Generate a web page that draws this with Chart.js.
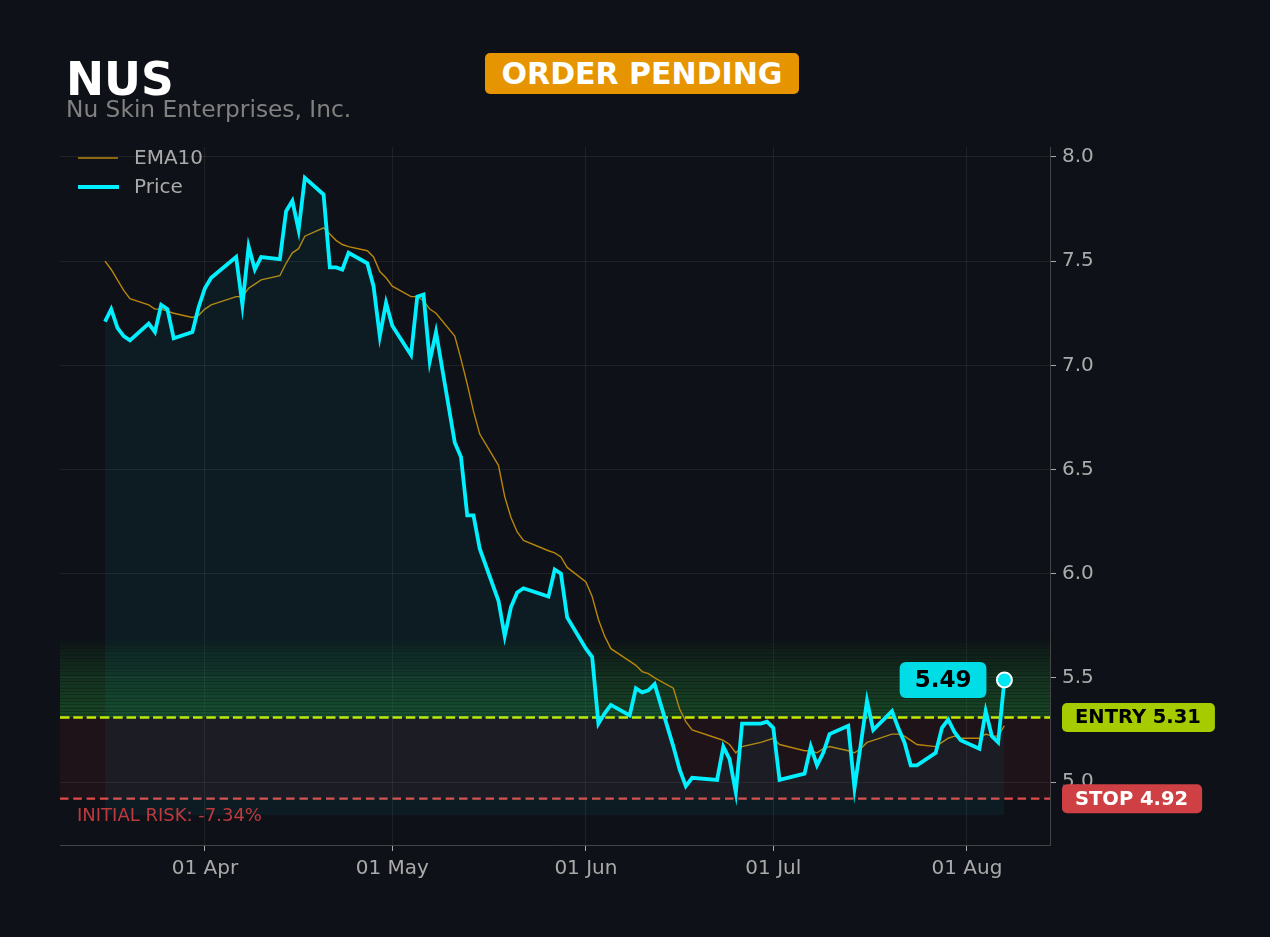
<!DOCTYPE html>
<html lang="en">
<head>
    <meta charset="UTF-8">
    <meta name="viewport" content="width=device-width, initial-scale=1.0">
    <title>NUS - Order Pending</title>
    <script src="https://cdn.jsdelivr.net/npm/chart.js@4.4.1/dist/chart.umd.min.js"></script>
    <style>
        html, body { margin: 0; padding: 0; background: #0e1117; }
        body { width: 1270px; height: 937px; overflow: hidden; position: relative; font-family: 'DejaVu Sans', sans-serif; }
        .chart-wrap { position: absolute; left: 0; top: 0; width: 1270px; height: 937px; }
        .ticker { position: absolute; left: 66px; top: 57px; font-size: 45.5px; line-height: 45px; font-weight: bold; color: #ffffff; }
        .company { position: absolute; left: 66px; top: 97px; font-size: 23.3px; line-height: 23px; color: #808080; }
        .badge { position: absolute; left: 485px; top: 53px; width: 314px; height: 41px; border-radius: 5px; background: #e69500; color: #ffffff; font-weight: bold; font-size: 30px; display: flex; align-items: center; justify-content: center; }
    </style>
</head>
<body>
    <div class="chart-wrap"><canvas id="nusChart"></canvas></div>
    <div class="ticker">NUS</div>
    <div class="company">Nu Skin Enterprises, Inc.</div>
    <div class="badge">ORDER PENDING</div>

    <script>
        // trading days (2026), MM-DD
        const YEAR = 2026;
        const dates = [
            '03-16', '03-17', '03-18', '03-19', '03-20', '03-23', '03-24', '03-25', '03-26', '03-27', '03-30', '03-31',
            '04-01', '04-02', '04-06', '04-07', '04-08', '04-09', '04-10', '04-13', '04-14', '04-15', '04-16', '04-17',
            '04-20', '04-21', '04-22', '04-23', '04-24', '04-27', '04-28', '04-29', '04-30',
            '05-01', '05-04', '05-05', '05-06', '05-07', '05-08', '05-11', '05-12', '05-13', '05-14', '05-15',
            '05-18', '05-19', '05-20', '05-21', '05-22', '05-26', '05-27', '05-28', '05-29',
            '06-01', '06-02', '06-03', '06-04', '06-05', '06-08', '06-09', '06-10', '06-11', '06-12',
            '06-15', '06-16', '06-17', '06-18', '06-22', '06-23', '06-24', '06-25', '06-26', '06-29', '06-30',
            '07-01', '07-02', '07-06', '07-07', '07-08', '07-09', '07-10', '07-13', '07-14', '07-15', '07-16', '07-17',
            '07-20', '07-21', '07-22', '07-23', '07-24', '07-27', '07-28', '07-29', '07-30', '07-31',
            '08-03', '08-04', '08-05', '08-06', '08-07'
        ];
        const price = [
            7.21, 7.27, 7.18, 7.14, 7.12, 7.20, 7.16, 7.29, 7.27, 7.13, 7.16, 7.28,
            7.37, 7.42, 7.52, 7.29, 7.57, 7.46, 7.52, 7.51, 7.74, 7.79, 7.65, 7.90,
            7.82, 7.47, 7.47, 7.46, 7.54, 7.49, 7.38, 7.14, 7.30,
            7.19, 7.05, 7.33, 7.34, 7.02, 7.16, 6.63, 6.56, 6.28, 6.28, 6.12,
            5.87, 5.70, 5.84, 5.91, 5.93, 5.89, 6.02, 6.00, 5.79,
            5.64, 5.60, 5.28, 5.33, 5.37, 5.32, 5.45, 5.43, 5.44, 5.47,
            5.17, 5.06, 4.98, 5.02, 5.01, 5.17, 5.11, 4.95, 5.28, 5.28, 5.29,
            5.26, 5.01, 5.04, 5.17, 5.08, 5.14, 5.23, 5.27, 4.97, 5.18, 5.39, 5.25,
            5.34, 5.26, 5.19, 5.08, 5.08, 5.14, 5.26, 5.30, 5.24, 5.20,
            5.16, 5.34, 5.22, 5.19, 5.49
        ];
        const ema10 = [
            7.50, 7.46, 7.41, 7.36, 7.32, 7.29, 7.27, 7.27, 7.26, 7.25, 7.23, 7.24,
            7.27, 7.29, 7.33, 7.33, 7.37, 7.39, 7.41, 7.43, 7.49, 7.54, 7.56, 7.62,
            7.66, 7.63, 7.60, 7.58, 7.57, 7.55, 7.52, 7.45, 7.42,
            7.38, 7.33, 7.33, 7.31, 7.27, 7.25, 7.14, 7.03, 6.91, 6.78, 6.67,
            6.52, 6.37, 6.27, 6.20, 6.16, 6.11, 6.10, 6.08, 6.03,
            5.96, 5.89, 5.78, 5.70, 5.64, 5.58, 5.56, 5.53, 5.52, 5.50,
            5.45, 5.35, 5.29, 5.25, 5.21, 5.20, 5.18, 5.14, 5.17, 5.19, 5.20,
            5.21, 5.18, 5.15, 5.15, 5.14, 5.16, 5.17, 5.15, 5.14, 5.16, 5.19, 5.20,
            5.23, 5.23, 5.22, 5.20, 5.18, 5.17, 5.19, 5.21, 5.22, 5.21,
            5.21, 5.23, 5.22, 5.22, 5.27
        ];
        const yTicks = [5.0, 5.5, 6.0, 6.5, 7.0, 7.5, 8.0];
        const xTickDates = ['04-01', '05-01', '06-01', '07-01', '08-01'];
        const xTickLabels = ['01 Apr', '01 May', '01 Jun', '01 Jul', '01 Aug'];
        const entryPrice = 5.31;
        const stopPrice = 4.92;
        const riskText = 'INITIAL RISK: -7.34%';

        const FONT = '"DejaVu Sans", sans-serif';

        function dayNum(md) {
            const [m, d] = md.split('-').map(Number);
            return (Date.UTC(YEAR, m - 1, d) - Date.UTC(YEAR, 3, 1)) / 86400000;
        }

        const pricePts = dates.map((d, i) => ({ x: dayNum(d), y: price[i] }));
        const emaPts = dates.map((d, i) => ({ x: dayNum(d), y: ema10[i] }));
        const lastIdx = price.length - 1;

        // entry/stop zones and dashed levels, under the lines
        const zonesPlugin = {
            id: 'zones',
            beforeDatasetsDraw(chart) {
                const { ctx, chartArea: a, scales: { y } } = chart;
                const w = a.right - a.left;
                const yE = y.getPixelForValue(entryPrice);
                const yS = y.getPixelForValue(stopPrice);
                ctx.save();
                ctx.fillStyle = 'rgba(220,50,50,0.08)';
                ctx.fillRect(a.left, yE, w, yS - yE);

                // stacked green band above entry
                const bandTop = 5.69;
                const steps = 24;
                for (let i = 0; i < steps; i++) {
                    const y0 = y.getPixelForValue(entryPrice + (bandTop - entryPrice) * i / steps);
                    const y1 = y.getPixelForValue(entryPrice + (bandTop - entryPrice) * (i + 1) / steps);
                    const alpha = 0.38 * Math.pow(1 - i / steps, 0.8);
                    ctx.fillStyle = `rgba(40,160,60,${alpha.toFixed(3)})`;
                    ctx.fillRect(a.left, y1, w, y0 - y1);
                    ctx.fillStyle = 'rgba(14,17,23,0.4)';
                    ctx.fillRect(a.left, Math.round(y1), w, 1);
                }

                ctx.lineWidth = 2.5;
                ctx.setLineDash([9.5, 3.8]);
                ctx.strokeStyle = '#c6e800';
                ctx.beginPath();
                ctx.moveTo(a.left, yE);
                ctx.lineTo(a.right, yE);
                ctx.stroke();

                ctx.lineWidth = 2.2;
                ctx.setLineDash([8.5, 4.8]);
                ctx.strokeStyle = '#e04b4b';
                ctx.beginPath();
                ctx.moveTo(a.left, yS);
                ctx.lineTo(a.right, yS);
                ctx.stroke();
                ctx.restore();
            }
        };

        // legend, level labels, last price label
        const labelsPlugin = {
            id: 'labels',
            afterDraw(chart) {
                const { ctx, scales: { x, y } } = chart;
                ctx.save();
                ctx.textBaseline = 'middle';

                // legend
                ctx.lineCap = 'butt';
                ctx.strokeStyle = '#b8860b';
                ctx.lineWidth = 1.5;
                ctx.beginPath(); ctx.moveTo(78, 158); ctx.lineTo(118, 158); ctx.stroke();
                ctx.strokeStyle = '#00f0ff';
                ctx.lineWidth = 4;
                ctx.beginPath(); ctx.moveTo(78, 187); ctx.lineTo(119, 187); ctx.stroke();
                ctx.fillStyle = '#aaaaaa';
                ctx.font = '20px ' + FONT;
                ctx.textAlign = 'left';
                ctx.fillText('EMA10', 134, 159);
                ctx.fillText('Price', 134, 188);

                // initial risk
                ctx.fillStyle = '#be3a3e';
                ctx.font = '18px ' + FONT;
                ctx.fillText(riskText, 77, 816);

                // entry / stop tags
                const tag = (text, yPix, bg, fg) => {
                    ctx.font = 'bold 19.5px ' + FONT;
                    const tw = ctx.measureText(text).width;
                    ctx.fillStyle = bg;
                    ctx.beginPath();
                    ctx.roundRect(1062, yPix - 14.5, tw + 27, 29, 5);
                    ctx.fill();
                    ctx.fillStyle = fg;
                    ctx.textAlign = 'left';
                    ctx.fillText(text, 1075, yPix + 1);
                };
                tag('ENTRY ' + entryPrice.toFixed(2), y.getPixelForValue(entryPrice), '#a6cc00', '#000000');
                tag('STOP ' + stopPrice.toFixed(2), y.getPixelForValue(stopPrice), '#cf4044', '#ffffff');

                // last price tag
                const px = x.getPixelForValue(pricePts[lastIdx].x);
                const py = y.getPixelForValue(price[lastIdx]);
                const txt = price[lastIdx].toFixed(2);
                ctx.font = 'bold 23px ' + FONT;
                const tw = ctx.measureText(txt).width;
                const bw = tw + 30;
                ctx.fillStyle = '#00dde6';
                ctx.beginPath();
                ctx.roundRect(px - 18 - bw, py - 18, bw, 36, 6);
                ctx.fill();
                ctx.fillStyle = '#000000';
                ctx.textAlign = 'center';
                ctx.fillText(txt, px - 18 - bw / 2, py + 1);
                ctx.restore();
            }
        };

        const ctx = document.getElementById('nusChart').getContext('2d');
        new Chart(ctx, {
            type: 'line',
            data: {
                datasets: [{
                    label: 'Price',
                    data: pricePts,
                    borderColor: '#00f0ff',
                    borderWidth: 3.8,
                    tension: 0,
                    fill: { value: 4.84 },
                    backgroundColor: 'rgba(0,229,255,0.05)',
                    pointRadius: c => c.dataIndex === lastIdx ? 7.5 : 0,
                    pointHoverRadius: 0,
                    pointBackgroundColor: '#00e8f4',
                    pointBorderColor: '#ffffff',
                    pointBorderWidth: 2
                }, {
                    label: 'EMA10',
                    data: emaPts,
                    borderColor: '#b8860b',
                    borderWidth: 1.4,
                    tension: 0,
                    pointRadius: 0,
                    fill: false
                }]
            },
            options: {
                responsive: true,
                maintainAspectRatio: false,
                animation: false,
                layout: { padding: { left: 60, top: 147, right: 0, bottom: 0 } },
                plugins: {
                    legend: { display: false },
                    tooltip: { enabled: false }
                },
                scales: {
                    x: {
                        type: 'linear',
                        min: -23.2,
                        max: 135.3,
                        afterBuildTicks: s => { s.ticks = xTickDates.map(d => ({ value: dayNum(d) })); },
                        afterFit: s => { s.height = 92; },
                        ticks: {
                            color: '#aaaaaa',
                            font: { family: FONT, size: 20 },
                            padding: 6,
                            maxRotation: 0,
                            autoSkip: false,
                            callback: (v, i) => xTickLabels[i]
                        },
                        grid: { color: 'rgba(255,255,255,0.07)', tickColor: '#aaaaaa', tickLength: 6 },
                        border: { color: '#444444' }
                    },
                    y: {
                        position: 'right',
                        min: 4.6976,
                        max: 8.048,
                        afterBuildTicks: s => { s.ticks = yTicks.map(v => ({ value: v })); },
                        afterFit: s => { s.width = 220; },
                        ticks: {
                            color: '#aaaaaa',
                            font: { family: FONT, size: 20 },
                            padding: 6,
                            callback: v => Number(v).toFixed(1)
                        },
                        grid: { color: 'rgba(255,255,255,0.07)', tickColor: '#aaaaaa', tickLength: 6 },
                        border: { color: '#444444' }
                    }
                }
            },
            plugins: [zonesPlugin, labelsPlugin]
        });
    </script>
</body>
</html>
